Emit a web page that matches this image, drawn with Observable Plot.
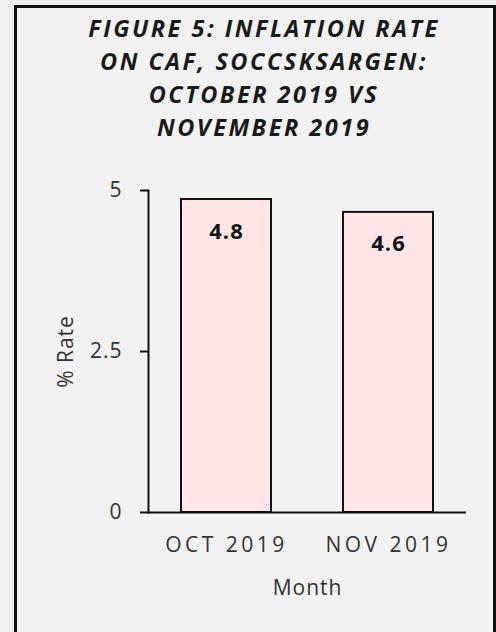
<!DOCTYPE html>
<html><head><meta charset="utf-8">
<script src="https://cdn.jsdelivr.net/npm/d3@7"></script>
<script src="https://cdn.jsdelivr.net/npm/@observablehq/plot@0.6"></script>
<style>
html,body{margin:0;padding:0;background:#f0f0f0;overflow:hidden;}
#page{position:relative;width:496px;height:632px;}
#box{position:absolute;left:14px;top:5px;width:476px;height:700px;border:3px solid #111;border-bottom:none;background:#f2f2f2;}
#title{position:absolute;left:32px;top:12px;width:464px;text-align:center;font-family:"Open Sans",sans-serif;font-weight:bold;font-style:italic;font-size:23.5px;line-height:33px;letter-spacing:2.5px;color:#1a1a1a;}
#chart{position:absolute;left:0;top:160px;}
#chart svg text{letter-spacing:1px;}
#chart g[aria-label="x-axis tick label"] text{letter-spacing:3.5px;}
#chart g[aria-label="y-axis tick label"] text{letter-spacing:1px;}
</style></head>
<body>
<div id="page">
<div id="box"></div>
<div id="title">FIGURE 5: INFLATION RATE<br>ON CAF, SOCCSKSARGEN:<br>OCTOBER 2019 VS<br>NOVEMBER 2019</div>
<div id="chart"></div>
</div>
<script>
const months = ["OCT 2019", "NOV 2019"];
const rates = [4.86, 4.66];
const rateLabels = ["4.8", "4.6"];
const yTicks = [0, 2.5, 5];

const data = months.map((m, i) => ({month: m, rate: rates[i], label: rateLabels[i]}));

const chart = Plot.plot({
  width: 496,
  height: 472,
  marginTop: 30,
  marginBottom: 120,
  marginLeft: 148,
  marginRight: 30,
  style: {background: "transparent", fontFamily: "Open Sans, sans-serif", fontSize: "21px", color: "#333"},
  x: {domain: months, paddingInner: 0.444, paddingOuter: 0.2, label: "Month"},
  y: {domain: [0, 5], label: "% Rate", labelArrow: "none"},
  marks: [
    Plot.barY(data, {x: "month", y: "rate", fill: "#ffe6e6", stroke: "#111", strokeWidth: 2}),
    Plot.text(data, {x: "month", y: "rate", text: "label", dy: 32, fontWeight: "bold", fontSize: 22, fill: "#111"}),
    Plot.axisY({ticks: yTicks, tickSize: 8, tickPadding: 18, tickFormat: d => String(d), stroke: "#111", strokeWidth: 2, strokeOpacity: 1,
      label: "% Rate", labelArrow: "none", labelAnchor: "center", labelOffset: 90}),
    Plot.axisX({tickSize: 0, tickPadding: 25, label: "Month", labelAnchor: "center", labelOffset: 82}),
    Plot.frame({anchor: "left", stroke: "#111", strokeWidth: 2}),
    Plot.ruleY([0], {stroke: "#111", strokeWidth: 2})
  ]
});
document.getElementById("chart").appendChild(chart);
</script>
</body></html>
